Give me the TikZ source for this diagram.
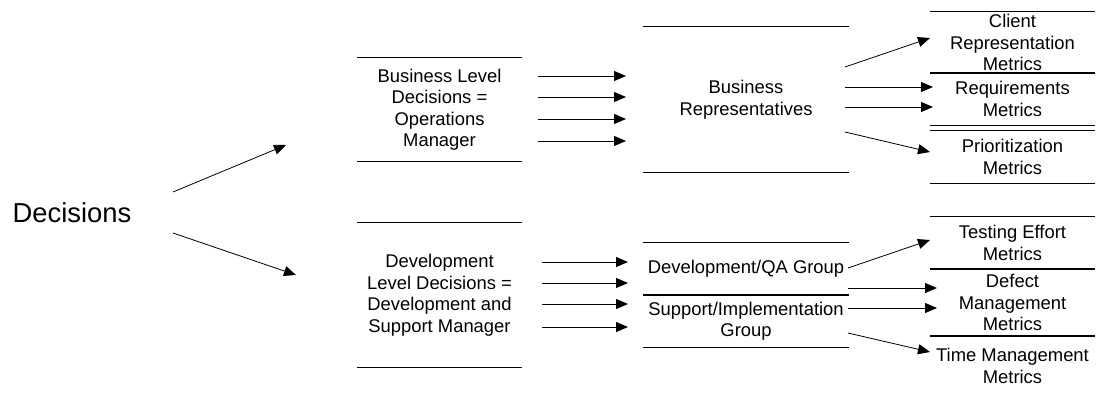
\documentclass[tikz,border=0pt]{standalone}
\usepackage{fontspec}
\setmainfont{Liberation Sans}
\usetikzlibrary{arrows.meta}
\usetikzlibrary{positioning}

\begin{document}
\begin{tikzpicture}[x=1pt,y=-1pt,
  every node/.style={align=center,inner sep=0pt,font=\fontsize{18.4}{21.5}\selectfont},
  lvl/.style={minimum width=165pt},
  grp/.style={minimum width=206pt},
  met/.style={minimum width=165pt},
  arr/.style={-{Triangle[length=12pt,width=10pt]},line width=0.8pt}]
  \useasboundingbox (0,0) rectangle (1096,396);

  \node[font=\fontsize{27.4}{32}\selectfont] (dec) at (72,213) {Decisions};

  \node[lvl,minimum height=103pt] (bld) at (439.5,109.5) {Business Level\\Decisions =\\Operations\\Manager};
  \node[lvl,minimum height=144pt] (dld) at (439.5,295) {Development\\Level Decisions =\\Development and\\Support Manager};

  \node[grp,minimum height=145pt] (brep) at (746,99.5) {Business\\Representatives};
  \node[grp,minimum height=52pt] (devqa) at (746,269) {Development/QA Group};
  \node[grp,minimum height=52pt] (supimp) at (746,321) {Support/Implementation\\Group};

  \node[met,minimum height=61pt] (client) at (1012.5,42.5) {Client\\Representation\\Metrics};
  \node[met,minimum height=52pt] (req) at (1012.5,99) {Requirements\\Metrics};
  \node[met,minimum height=52pt] (prio) at (1012.5,157) {Prioritization\\Metrics};
  \node[met,minimum height=52pt] (test) at (1012.5,243) {Testing Effort\\Metrics};
  \node[met,minimum height=67pt] (defect) at (1012.5,302.5) {Defect\\Management\\Metrics};
  \node[met,minimum height=60pt] (time) at (1012.5,366) {Time Management\\Metrics};

  % rules above and below the boxes
  \foreach \n in {bld,dld,brep,devqa,supimp,client,req,prio,test,defect}
    \draw[line width=0.8pt] (\n.north west) -- (\n.north east) (\n.south west) -- (\n.south east);
  \draw[line width=0.8pt] (time.north west) -- (time.north east);

  % arrows
  \coordinate (dup) at (173,192); \coordinate (dupe) at (286,145);
  \coordinate (dlo) at (173,233); \coordinate (dloe) at (296,275);
  \draw[arr] (dup) -- (dupe);
  \draw[arr] (dlo) -- (dloe);

  \foreach \y [count=\i] in {76,97,119,141} {
    \coordinate (bs\i) at (538,\y); \coordinate (be\i) at (626,\y);
    \draw[arr] (bs\i) -- (be\i);
  }
  \foreach \y [count=\i] in {262,283,304,327} {
    \coordinate (ds\i) at (542,\y); \coordinate (de\i) at (628,\y);
    \draw[arr] (ds\i) -- (de\i);
  }

  \coordinate (r1) at (845,67);  \coordinate (r1e) at (930,38);
  \coordinate (r2) at (845,87);  \coordinate (r2e) at (933,87);
  \coordinate (r3) at (845,107); \coordinate (r3e) at (933,107);
  \coordinate (r4) at (845,132); \coordinate (r4e) at (930,152);
  \foreach \i in {1,...,4} \draw[arr] (r\i) -- (r\i e);

  \coordinate (g1) at (848,268); \coordinate (g1e) at (930,240);
  \coordinate (g2) at (848,288); \coordinate (g2e) at (937,288);
  \coordinate (g3) at (848,308); \coordinate (g3e) at (937,308);
  \coordinate (g4) at (848,333); \coordinate (g4e) at (930,352);
  \foreach \i in {1,...,4} \draw[arr] (g\i) -- (g\i e);
\end{tikzpicture}
\end{document}
